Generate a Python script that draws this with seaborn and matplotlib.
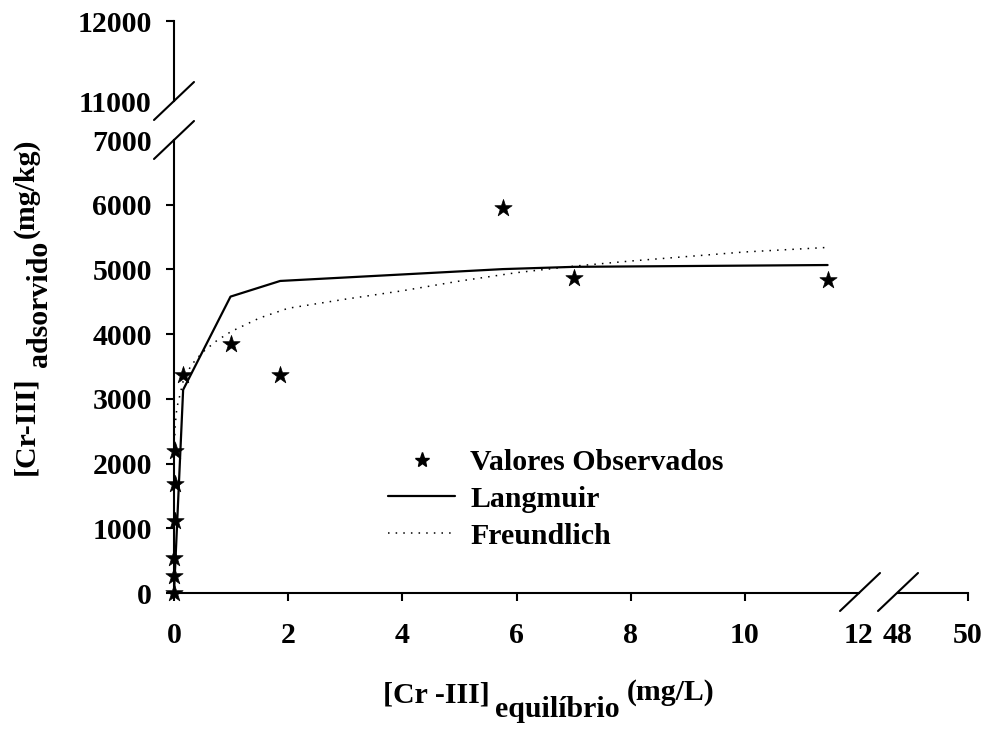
import matplotlib
matplotlib.use("Agg")
import matplotlib.pyplot as plt
import seaborn as sns
import pandas as pd
from matplotlib.lines import Line2D

# ---------------- data ----------------
obs_x = [0.0, 0.002, 0.005, 0.01, 0.015, 0.02, 0.16, 0.99, 1.86, 5.76, 7.01, 11.45]
obs_y = [0, 265, 540, 1120, 1680, 2190, 3370, 3845, 3375, 5945, 4870, 4830]

lang_x = [0.0, 0.16, 0.99, 1.86, 5.76, 7.01, 11.45]
lang_y = [0, 3140, 4580, 4822, 5005, 5040, 5068]

freund_x = [0.005, 0.02, 0.05, 0.16, 0.3, 0.5, 0.75, 1.0, 1.5, 2.0, 3.0, 4.0,
            5.0, 6.0, 7.0, 8.0, 9.0, 10.0, 11.45]
freund_y = [2200, 2580, 2860, 3270, 3520, 3720, 3900, 4040, 4250, 4400, 4540, 4670,
            4820, 4950, 5050, 5130, 5200, 5270, 5340]

x_ticks_main = [0, 2, 4, 6, 8, 10, 12]
x_ticks_right = [48, 50]
y_ticks_main = [0, 1000, 2000, 3000, 4000, 5000, 6000, 7000]
y_ticks_top = [11000, 12000]

labels = ["Valores Observados", "Langmuir", "Freundlich"]

# ---------------- style ----------------
sns.set_style("ticks")
plt.rcParams["font.family"] = ["Liberation Serif", "DejaVu Serif"]
plt.rcParams["font.weight"] = "bold"
plt.rcParams["axes.linewidth"] = 1.5
plt.rcParams["axes.edgecolor"] = "black"
plt.rcParams["xtick.color"] = "black"
plt.rcParams["ytick.color"] = "black"
plt.rcParams["text.color"] = "black"
plt.rcParams["axes.labelcolor"] = "black"

FS = 21.5
W, H = 989, 730
fig = plt.figure(figsize=(W / 100, H / 100), dpi=100)


def box(l, t, r, b):
    return [l / W, 1 - b / H, (r - l) / W, (b - t) / H]


ax = fig.add_axes(box(174, 140, 859, 593))
ax_top = fig.add_axes(box(174, 21, 200, 101))
ax_r = fig.add_axes(box(898, 140, 968, 593))

df_obs = pd.DataFrame({"x": obs_x, "y": obs_y})
df_lang = pd.DataFrame({"x": lang_x, "y": lang_y})
df_fr = pd.DataFrame({"x": freund_x, "y": freund_y})

sns.lineplot(data=df_lang, x="x", y="y", ax=ax, color="black", lw=1.6,
             sort=False, estimator=None, clip_on=False, zorder=2)
sns.lineplot(data=df_fr, x="x", y="y", ax=ax, color="black", lw=1.1,
             linestyle=(0, (1, 4)), sort=False, estimator=None, clip_on=False, zorder=2)
sns.scatterplot(data=df_obs, x="x", y="y", ax=ax, marker="*", s=170, color="black",
                edgecolor="black", linewidth=0.5, clip_on=False, zorder=3)

for a in (ax, ax_top, ax_r):
    a.set_facecolor("none")
    a.set_xlabel("")
    a.set_ylabel("")
    a.tick_params(direction="out", length=6, width=1.5, labelsize=FS,
                  colors="black", labelcolor="black")

ax.set_xlim(0, 12)
ax.set_ylim(0, 7000)
ax.set_xticks(x_ticks_main)
ax.set_yticks(y_ticks_main)
ax.set_xticklabels([str(v) for v in x_ticks_main], fontweight="bold")
ax.set_yticklabels([str(v) for v in y_ticks_main], fontweight="bold")
ax.tick_params(axis="x", pad=15)
ax.tick_params(axis="y", pad=10)
ax.spines["top"].set_visible(False)
ax.spines["right"].set_visible(False)
ax.xaxis.get_major_ticks()[-1].tick1line.set_visible(False)
ax.yaxis.get_major_ticks()[-1].tick1line.set_visible(False)

ax_top.set_ylim(11000, 12000)
ax_top.set_yticks(y_ticks_top)
ax_top.set_yticklabels([str(v) for v in y_ticks_top], fontweight="bold")
ax_top.set_xticks([])
ax_top.tick_params(axis="y", pad=10)
for s in ("top", "right", "bottom"):
    ax_top.spines[s].set_visible(False)
ax_top.yaxis.get_major_ticks()[0].tick1line.set_visible(False)

ax_r.set_xlim(48, 50)
ax_r.set_xticks(x_ticks_right)
ax_r.set_xticklabels([str(v) for v in x_ticks_right], fontweight="bold")
ax_r.set_yticks([])
ax_r.tick_params(axis="x", pad=15)
for s in ("top", "right", "left"):
    ax_r.spines[s].set_visible(False)
ax_r.xaxis.get_major_ticks()[0].tick1line.set_visible(False)


# break slashes (figure pixel coordinates)
def slash(xc, yc, dx=20, dy=19):
    fig.add_artist(Line2D([(xc - dx) / W, (xc + dx) / W],
                          [1 - (yc + dy) / H, 1 - (yc - dy) / H],
                          transform=fig.transFigure, color="black", lw=1.5))


slash(174, 101)
slash(174, 140)
slash(860, 592)
slash(898, 592)

# legend
handles = [
    Line2D([], [], marker="*", color="black", linestyle="none", markersize=11),
    Line2D([], [], color="black", lw=1.6),
    Line2D([], [], color="black", lw=1.1, linestyle=(0, (1, 4))),
]
leg = ax.legend(handles, labels, loc="upper left", bbox_to_anchor=(388 / W, 1 - 449 / H),
                bbox_transform=fig.transFigure, frameon=False, borderpad=0, borderaxespad=0,
                handlelength=2.25, handletextpad=0.5, labelspacing=0.33,
                prop={"family": "Liberation Serif", "weight": "bold", "size": FS})
for t in leg.get_texts():
    t.set_color("black")

# axis labels
tk = dict(fontsize=FS, fontweight="bold", va="baseline", ha="left", color="black")
fig.text(383 / W, 1 - 702 / H, "[Cr -III]", **tk)
fig.text(495 / W, 1 - 717 / H, "equilíbrio", **tk)
fig.text(627 / W, 1 - 700 / H, "(mg/L)", **tk)

rk = dict(fontsize=FS, fontweight="bold", va="baseline", ha="left", color="black",
          rotation=90, rotation_mode="anchor")
fig.text(33 / W, 1 - 475 / H, "[Cr-III]", **rk)
fig.text(47 / W, 1 - 367 / H, "adsorvido", **rk)
fig.text(33 / W, 1 - 238 / H, "(mg/kg)", **rk)

fig.savefig("out.png", dpi=100, facecolor="white")
